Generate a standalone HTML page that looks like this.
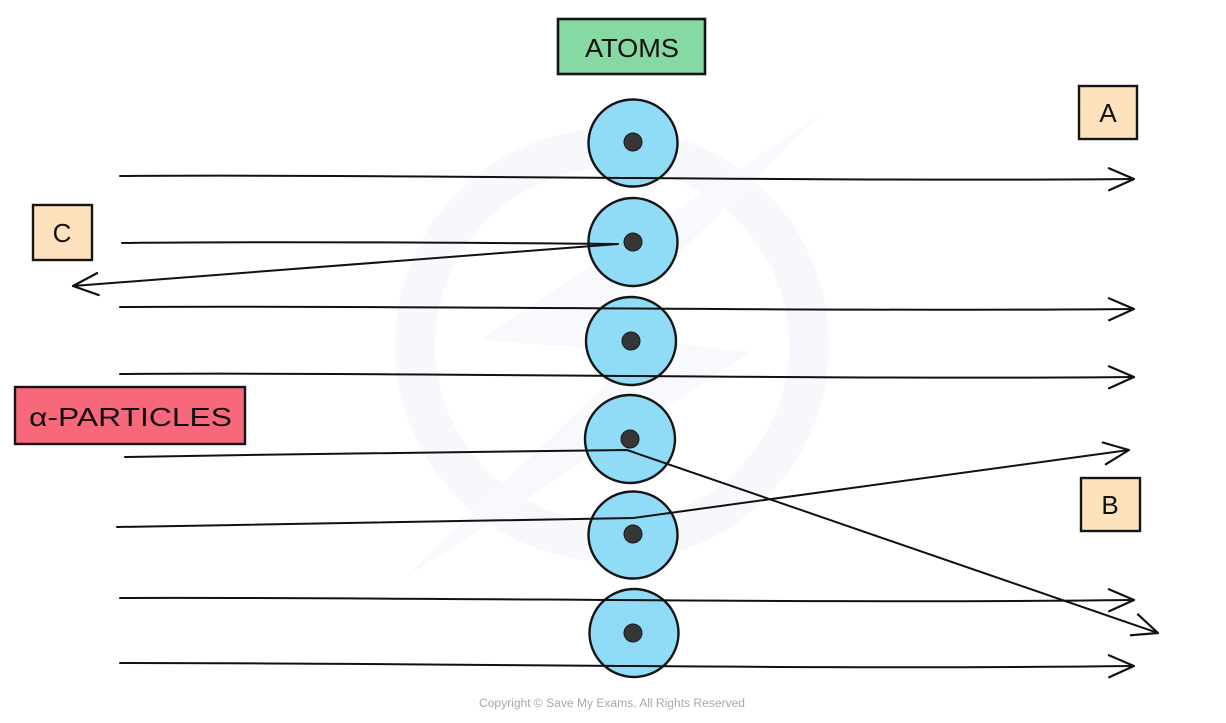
<!DOCTYPE html>
<html>
<head>
<meta charset="utf-8">
<style>
html,body{margin:0;padding:0;background:#fff;}
body{width:1226px;height:723px;overflow:hidden;}
svg{display:block;}
.lbl{font-family:"Liberation Sans",sans-serif;fill:#111;}
</style>
</head>
<body>
<svg width="1226" height="723" viewBox="0 0 1226 723" xmlns="http://www.w3.org/2000/svg">
  <defs>
    <marker id="ah" markerUnits="userSpaceOnUse" markerWidth="40" markerHeight="40" viewBox="-30 -20 40 40" refX="0" refY="0" orient="auto">
      <path d="M-25,-11 L0,0 L-25,11" fill="none" stroke="#111" stroke-width="2.2" stroke-linecap="round" stroke-linejoin="round"/>
    </marker>
  </defs>

  <!-- watermark -->
  <circle cx="612" cy="345" r="197" fill="none" stroke="#f6f8fc" stroke-width="40"/>
  <polygon points="820,115 480,340 640,352 405,578 750,352 595,335" fill="#f7f9fc"/>

  <!-- atoms -->
  <g fill="#90dcf7" stroke="#151515" stroke-width="2.4">
    <ellipse cx="633" cy="143" rx="44.5" ry="43.5"/>
    <ellipse cx="633" cy="242" rx="44.5" ry="44"/>
    <ellipse cx="631" cy="341" rx="45" ry="44"/>
    <ellipse cx="630" cy="439" rx="45" ry="44"/>
    <ellipse cx="633" cy="535" rx="44.5" ry="43.5"/>
    <ellipse cx="634" cy="633" rx="44.5" ry="44"/>
  </g>

  <!-- trajectories -->
  <g fill="none" stroke="#111" stroke-width="2" stroke-linecap="round" stroke-linejoin="round">
    <path d="M120,176 C400,174 820,182 1134,179" marker-end="url(#ah)"/>
    <path d="M122,243 C300,241 500,243 618,244 L73,286" marker-end="url(#ah)"/>
    <path d="M120,307 C400,305 820,312 1134,309" marker-end="url(#ah)"/>
    <path d="M120,374 C400,372 820,380 1134,377" marker-end="url(#ah)"/>
    <path d="M125,457 C300,454 500,451 627,450 L1158,633" marker-end="url(#ah)"/>
    <path d="M117,527 C300,524 500,520 633,518 L1129,450" marker-end="url(#ah)"/>
    <path d="M120,598 C450,597 800,604 1134,600" marker-end="url(#ah)"/>
    <path d="M120,663 C450,663 800,670 1134,666" marker-end="url(#ah)"/>
  </g>

  <!-- nuclei -->
  <g fill="#363636" stroke="#1a1a1a" stroke-width="1">
    <circle cx="633" cy="142" r="9"/>
    <circle cx="633" cy="242" r="9"/>
    <circle cx="631" cy="341" r="9"/>
    <circle cx="630" cy="439" r="9"/>
    <circle cx="633" cy="534" r="9"/>
    <circle cx="633" cy="633" r="9"/>
  </g>

  <!-- label boxes -->
  <rect x="558" y="19" width="147" height="55" fill="#86d9a2" stroke="#151515" stroke-width="2.6"/>
  <text class="lbl" x="632" y="57" font-size="26" text-anchor="middle" textLength="94" lengthAdjust="spacingAndGlyphs">ATOMS</text>

  <rect x="1079" y="86" width="58" height="53" fill="#fde2bd" stroke="#151515" stroke-width="2.4"/>
  <text class="lbl" x="1108" y="122" font-size="26" text-anchor="middle">A</text>

  <rect x="33" y="205" width="59" height="55" fill="#fde2bd" stroke="#151515" stroke-width="2.4"/>
  <text class="lbl" x="62" y="242" font-size="26" text-anchor="middle">C</text>

  <rect x="1081" y="478" width="59" height="53" fill="#fde2bd" stroke="#151515" stroke-width="2.4"/>
  <text class="lbl" x="1110" y="514" font-size="26" text-anchor="middle">B</text>

  <rect x="15" y="387" width="230" height="57" fill="#f6687a" stroke="#151515" stroke-width="2.4"/>
  <text class="lbl" x="29" y="426" font-size="26" textLength="203" lengthAdjust="spacingAndGlyphs">α‑PARTICLES</text>

  <!-- copyright -->
  <text x="612" y="707" font-family="'Liberation Sans',sans-serif" font-size="11.5" fill="#a8a8a8" text-anchor="middle" textLength="266" lengthAdjust="spacingAndGlyphs">Copyright © Save My Exams. All Rights Reserved</text>
</svg>
</body>
</html>
